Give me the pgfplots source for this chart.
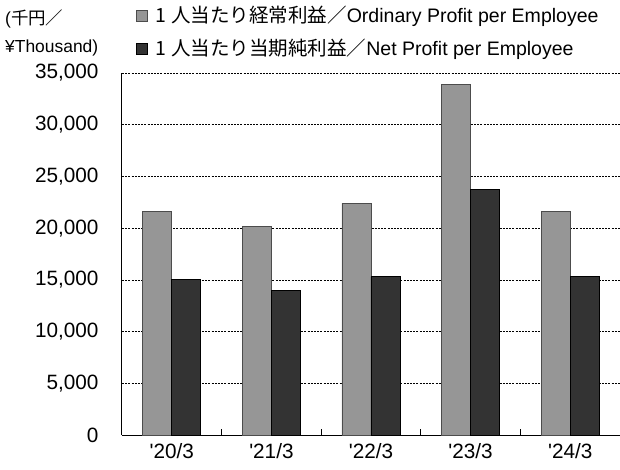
\documentclass[border=0pt]{standalone}
\usepackage{pgfplots}
\pgfplotsset{compat=1.18}
\usepackage{fontspec}
\setmainfont{Liberation Sans}
\newfontfamily\cjk{Noto Sans CJK JP}
\definecolor{barA}{HTML}{969696}
\definecolor{barB}{HTML}{333333}
\begin{document}
\begin{tikzpicture}
\useasboundingbox (-122bp,-35bp) rectangle (498bp,435bp);
\begin{axis}[
  scale only axis, width=498bp, height=362bp,
  at={(0,0)}, anchor=south west,
  xmin=-0.5, xmax=4.5, ymin=0, ymax=35000,
  ybar=0pt, bar width=29bp,
  axis x line*=bottom, axis y line*=left,
  axis line style={line width=1bp, black},
  ytick={0,5000,...,35000},
  scaled y ticks=false,
  ymajorgrids,
  major grid style={black, line width=0.7bp, dash pattern=on 2bp off 1.2bp},
  major tick length=0pt,
  tick style={black, line width=0.8bp},
  yticklabel style={font=\fontsize{20.8}{23}\selectfont, xshift=-20bp},
  /pgf/number format/assume math mode=true,
  /pgf/number format/1000 sep={,},
  xtick={0,1,2,3,4},
  xticklabels={\textquotesingle20/3,\textquotesingle21/3,\textquotesingle22/3,\textquotesingle23/3,\textquotesingle24/3},
  xticklabel style={font=\fontsize{20.8}{23}\selectfont, yshift=-5bp},
  extra x ticks={0.5,1.5,2.5,3.5},
  extra x tick labels={},
  extra x tick style={grid=none, tick align=inside, major tick length=6bp},
  legend style={at={(rel axis cs:0.028,1.19)}, anchor=north west, draw=none, fill=none,
    inner sep=0pt, row sep=11bp, font=\fontsize{19.6}{22}\selectfont,
    nodes={inner sep=2bp}},
  legend cell align=left,
  legend image code/.code={\draw[#1, line width=0.7bp] (0bp,-5.5bp) rectangle (11bp,5.5bp);},
]
\addplot[fill=barA, draw=black!70, line width=0.8bp] coordinates {(0,21600) (1,20200) (2,22400) (3,33900) (4,21600)};
\addlegendentry{\hspace{6bp}{\cjk 1 人当たり経常利益／}Ordinary Profit per Employee}
\addplot[fill=barB, draw=black, line width=0.8bp] coordinates {(0,15000) (1,13950) (2,15300) (3,23750) (4,15350)};
\addlegendentry{\hspace{6bp}{\cjk 1 人当たり当期純利益／}Net Profit per Employee}
\end{axis}
\node[anchor=north west, align=left, inner sep=0pt, font=\fontsize{17.5}{28}\selectfont] at (-117bp,425bp) {({\cjk 千円／}\\¥Thousand)};
\end{tikzpicture}
\end{document}
